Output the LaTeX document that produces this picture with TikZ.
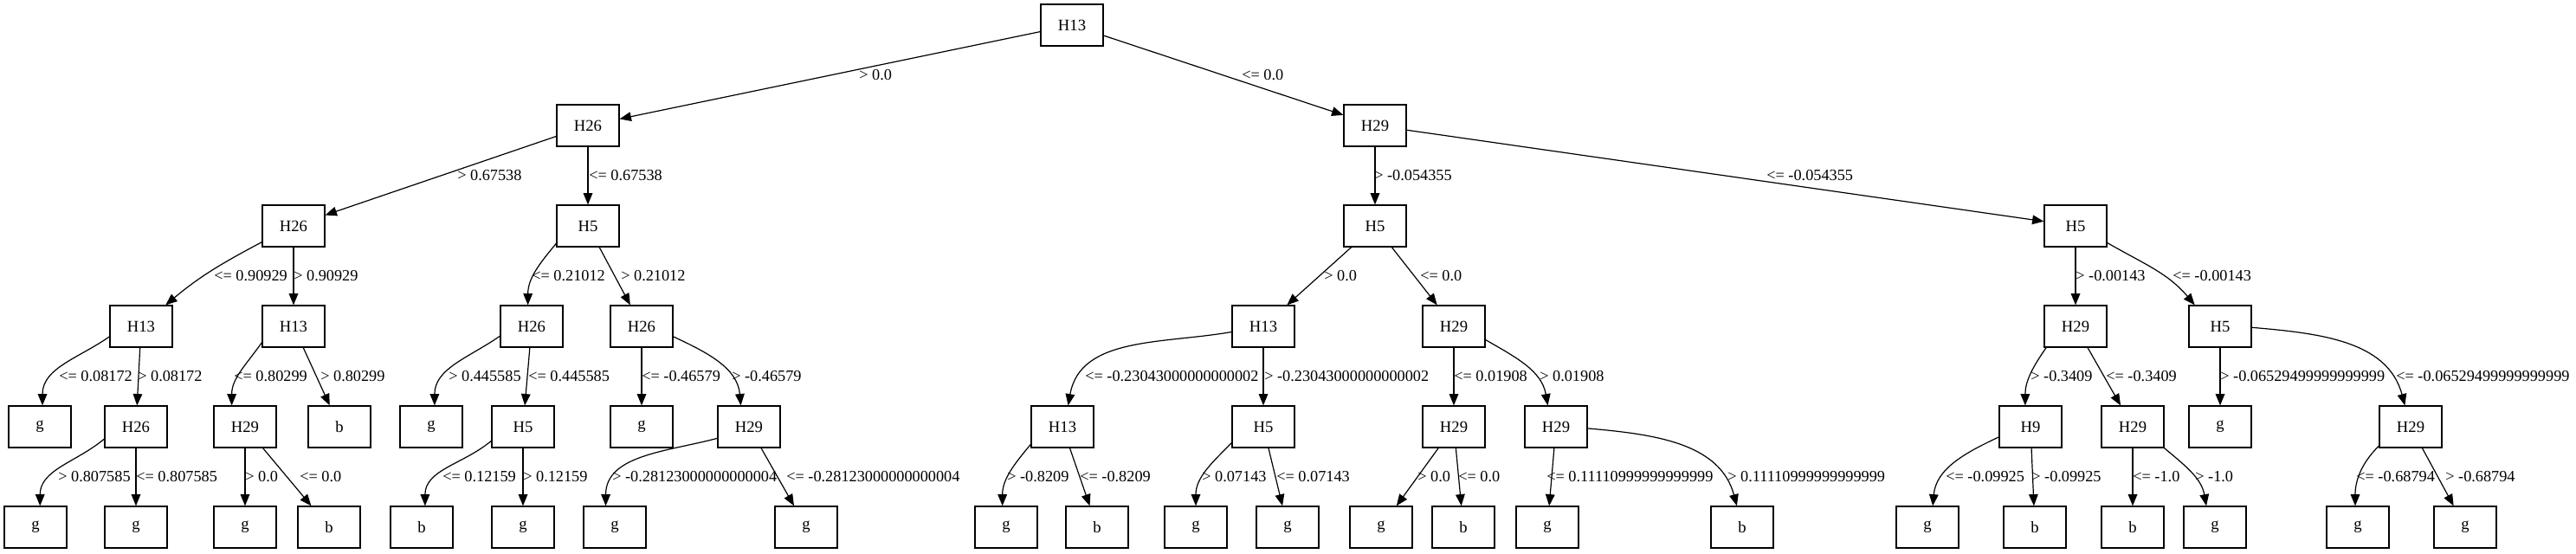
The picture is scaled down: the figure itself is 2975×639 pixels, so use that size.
\documentclass[tikz,border=0pt]{standalone}
\usepackage{fontspec}
\setmainfont{Liberation Serif}
\usetikzlibrary{arrows.meta}

\begin{document}
\begin{tikzpicture}[
  x=0.75pt, y=0.75pt,
  box/.style={rectangle, draw, line width=0.9pt, minimum width=54pt,
              minimum height=36pt, inner sep=0pt, font=\fontsize{14}{16}\selectfont},
  lbl/.style={anchor=west, inner sep=0pt, font=\fontsize{13.7}{16}\selectfont},
  edge/.style={-{Triangle[length=10pt,width=8pt]}, line width=0.9pt},
]
  \useasboundingbox (0,0) rectangle (2975,639);

  % level 0 - 2
  \node[box] (n)   at (1238,610) {H13};
  \node[box] (nL)  at (679,494)  {H26};
  \node[box] (nR)  at (1588,494) {H29};
  \node[box] (nLL) at (339,378)  {H26};
  \node[box] (nLR) at (679,378)  {H5};
  \node[box] (nRL) at (1588,378) {H5};
  \node[box] (nRR) at (2397,378) {H5};

  % level 3
  \node[box] (nLLL) at (163,262)  {H13};
  \node[box] (nLLR) at (339,262)  {H13};
  \node[box] (nLRL) at (614,262)  {H26};
  \node[box] (nLRR) at (741,262)  {H26};
  \node[box] (nRLL) at (1459,262) {H13};
  \node[box] (nRLR) at (1679,262) {H29};
  \node[box] (nRRL) at (2397,262) {H29};
  \node[box] (nRRR) at (2564,262) {H5};

  % level 4
  \node[box] (nLLLL) at (46,146)   {g};
  \node[box] (nLLLR) at (157,146)  {H26};
  \node[box] (nLLRL) at (283,146)  {H29};
  \node[box] (nLLRR) at (392,146)  {b};
  \node[box] (nLRLL) at (498,146)  {g};
  \node[box] (nLRLR) at (604,146)  {H5};
  \node[box] (nLRRL) at (741,146)  {g};
  \node[box] (nLRRR) at (865,146)  {H29};
  \node[box] (nRLLL) at (1227,146) {H13};
  \node[box] (nRLLR) at (1459,146) {H5};
  \node[box] (nRLRL) at (1679,146) {H29};
  \node[box] (nRLRR) at (1797,146) {H29};
  \node[box] (nRRLL) at (2345,146) {H9};
  \node[box] (nRRLR) at (2463,146) {H29};
  \node[box] (nRRRL) at (2564,146) {g};
  \node[box] (nRRRR) at (2784,146) {H29};

  % level 5
  \node[box] (nLLLRL) at (41,30)   {g};
  \node[box] (nLLLRR) at (157,30)  {g};
  \node[box] (nLLRLL) at (283,30)  {g};
  \node[box] (nLLRLR) at (380,30)  {b};
  \node[box] (nLRLRL) at (487,30)  {b};
  \node[box] (nLRLRR) at (604,30)  {g};
  \node[box] (nLRRRL) at (710,30)  {g};
  \node[box] (nLRRRR) at (931,30)  {g};
  \node[box] (nRLLLL) at (1162,30) {g};
  \node[box] (nRLLLR) at (1267,30) {b};
  \node[box] (nRLLRL) at (1381,30) {g};
  \node[box] (nRLLRR) at (1487,30) {g};
  \node[box] (nRLRLL) at (1595,30) {g};
  \node[box] (nRLRLR) at (1690,30) {b};
  \node[box] (nRLRRL) at (1787,30) {g};
  \node[box] (nRLRRR) at (2012,30) {b};
  \node[box] (nRRLLL) at (2226,30) {g};
  \node[box] (nRRLLR) at (2350,30) {b};
  \node[box] (nRRLRL) at (2463,30) {b};
  \node[box] (nRRLRR) at (2558,30) {g};
  \node[box] (nRRRRL) at (2723,30) {g};
  \node[box] (nRRRRR) at (2847,30) {g};

  % straight edges
  \draw[edge] (n) -- (nL);
  \draw[edge] (n) -- (nR);
  \draw[edge] (nL) -- (nLL);
  \draw[edge] (nL) -- (nLR);
  \draw[edge] (nR) -- (nRL);
  \draw[edge] (nR) -- (nRR);
  \draw[edge] (nLL) -- (nLLR);
  \draw[edge] (nLR) -- (nLRR);
  \draw[edge] (nRL) -- (nRLL);
  \draw[edge] (nRL) -- (nRLR);
  \draw[edge] (nRR) -- (nRRL);
  \draw[edge] (nLLL) -- (nLLLR);
  \draw[edge] (nLLR) -- (nLLRR);
  \draw[edge] (nLRL) -- (nLRLR);
  \draw[edge] (nLRR) -- (nLRRL);
  \draw[edge] (nRLL) -- (nRLLR);
  \draw[edge] (nRLR) -- (nRLRL);
  \draw[edge] (nRRL) -- (nRRLR);
  \draw[edge] (nRRR) -- (nRRRL);
  \draw[edge] (nLLLR) -- (nLLLRR);
  \draw[edge] (nLLRL) -- (nLLRLL);
  \draw[edge] (nLLRL) -- (nLLRLR);
  \draw[edge] (nLRLR) -- (nLRLRR);
  \draw[edge] (nLRRR) -- (nLRRRR);
  \draw[edge] (nRLLL) -- (nRLLLR);
  \draw[edge] (nRLLR) -- (nRLLRR);
  \draw[edge] (nRLRL) -- (nRLRLL);
  \draw[edge] (nRLRL) -- (nRLRLR);
  \draw[edge] (nRLRR) -- (nRLRRL);
  \draw[edge] (nRRLL) -- (nRRLLR);
  \draw[edge] (nRRLR) -- (nRRLRL);
  \draw[edge] (nRRRR) -- (nRRRRR);

  % curved edges
  \draw[edge] (nLL.207) to[out=208,in=40] (nLLL.41);
  \draw[edge] (nLR.209) to[out=230,in=90] (nLRL.100);
  \draw[edge] (nLLL.198) to[out=215,in=90] (nLLLL.83);
  \draw[edge] (nLLR.207) to[out=235,in=90] (nLLRL.122);
  \draw[edge] (nLRL.197) to[out=215,in=90] (nLRLL.81);
  \draw[edge] (nLRR.342) to[out=335,in=95] (nLRRR.111);
  \draw[edge] (nLLLR.201) to[out=220,in=90] (nLLLRL.78);
  \draw[edge] (nLRLR.204) to[out=220,in=90] (nLRLRL.81);
  \draw[edge] (nLRRR.200) to[out=195,in=90] (nLRRRL.113);
  \draw[edge] (nRLL.190) to[out=190,in=80] (nRLLL.75);
  \draw[edge] (nRLR.337) to[out=330,in=100] (nRLRR.111);
  \draw[edge] (nRLLL.209) to[out=230,in=90] (nRLLLL.100);
  \draw[edge] (nRLLR.207) to[out=225,in=90] (nRLLRL.90);
  \draw[edge] (nRLRR.357) to[out=355,in=105] (nRLRRR.104);
  \draw[edge] (nRR.332) to[out=330,in=130] (nRRR.140);
  \draw[edge] (nRRL.216) to[out=235,in=90] (nRRLL.104);
  \draw[edge] (nRRR.358) to[out=355,in=105] (nRRRR.105);
  \draw[edge] (nRRLL.198) to[out=205,in=85] (nRRLLL.76);
  \draw[edge] (nRRLR.326) to[out=320,in=100] (nRRLRR.112);
  \draw[edge] (nRRRR.211) to[out=225,in=90] (nRRRRL.97);

  % edge labels
  \node[lbl] (tL)  at (992,552)  {> 0.0};
  \node[lbl] (tR)  at (1434,552) {<= 0.0};
  \node[lbl] (tLL) at (528,436)  {> 0.67538};
  \node[lbl] (tLR) at (680,436)  {<= 0.67538};
  \node[lbl] (tRL) at (1587,436) {> -0.054355};
  \node[lbl] (tRR) at (2040,436) {<= -0.054355};

  \node[lbl] (tLLL) at (247,320)  {<= 0.90929};
  \node[lbl] (tLLR) at (339,320)  {> 0.90929};
  \node[lbl] (tLRL) at (614,320)  {<= 0.21012};
  \node[lbl] (tLRR) at (717,320)  {> 0.21012};
  \node[lbl] (tRLL) at (1529,320) {> 0.0};
  \node[lbl] (tRLR) at (1640,320) {<= 0.0};
  \node[lbl] (tRRL) at (2397,320) {> -0.00143};
  \node[lbl] (tRRR) at (2509,320) {<= -0.00143};

  \node[lbl] (tLLLL) at (68,204)   {<= 0.08172};
  \node[lbl] (tLLLR) at (159,204)  {> 0.08172};
  \node[lbl] (tLLRL) at (270,204)  {<= 0.80299};
  \node[lbl] (tLLRR) at (370,204)  {> 0.80299};
  \node[lbl] (tLRLL) at (518,204)  {> 0.445585};
  \node[lbl] (tLRLR) at (610,204)  {<= 0.445585};
  \node[lbl] (tLRRL) at (741,204)  {<= -0.46579};
  \node[lbl] (tLRRR) at (845,204)  {> -0.46579};
  \node[lbl] (tRLLL) at (1253,204) {<= -0.23043000000000002};
  \node[lbl] (tRLLR) at (1460,204) {> -0.23043000000000002};
  \node[lbl] (tRLRL) at (1679,204) {<= 0.01908};
  \node[lbl] (tRLRR) at (1778,204) {> 0.01908};
  \node[lbl] (tRRLL) at (2345,204) {> -0.3409};
  \node[lbl] (tRRLR) at (2432,204) {<= -0.3409};
  \node[lbl] (tRRRL) at (2564,204) {> -0.06529499999999999};
  \node[lbl] (tRRRR) at (2767,204) {<= -0.06529499999999999};

  \node[lbl] (tLLLRL) at (67,88)   {> 0.807585};
  \node[lbl] (tLLLRR) at (157,88)  {<= 0.807585};
  \node[lbl] (tLLRLL) at (283,88)  {> 0.0};
  \node[lbl] (tLLRLR) at (346,88)  {<= 0.0};
  \node[lbl] (tLRLRL) at (511,88)  {<= 0.12159};
  \node[lbl] (tLRLRR) at (604,88)  {> 0.12159};
  \node[lbl] (tLRRRL) at (707,88)  {> -0.28123000000000004};
  \node[lbl] (tLRRRR) at (908,88)  {<= -0.28123000000000004};
  \node[lbl] (tRLLLL) at (1163,88) {> -0.8209};
  \node[lbl] (tRLLLR) at (1247,88) {<= -0.8209};
  \node[lbl] (tRLLRL) at (1388,88) {> 0.07143};
  \node[lbl] (tRLLRR) at (1474,88) {<= 0.07143};
  \node[lbl] (tRLRLL) at (1637,88) {> 0.0};
  \node[lbl] (tRLRLR) at (1684,88) {<= 0.0};
  \node[lbl] (tRLRRL) at (1786,88) {<= 0.11110999999999999};
  \node[lbl] (tRLRRR) at (1995,88) {> 0.11110999999999999};
  \node[lbl] (tRRLLL) at (2247,88) {<= -0.09925};
  \node[lbl] (tRRLLR) at (2346,88) {> -0.09925};
  \node[lbl] (tRRLRL) at (2463,88) {<= -1.0};
  \node[lbl] (tRRLRR) at (2535,88) {> -1.0};
  \node[lbl] (tRRRRL) at (2721,88) {<= -0.68794};
  \node[lbl] (tRRRRR) at (2824,88) {> -0.68794};
\end{tikzpicture}
\end{document}
